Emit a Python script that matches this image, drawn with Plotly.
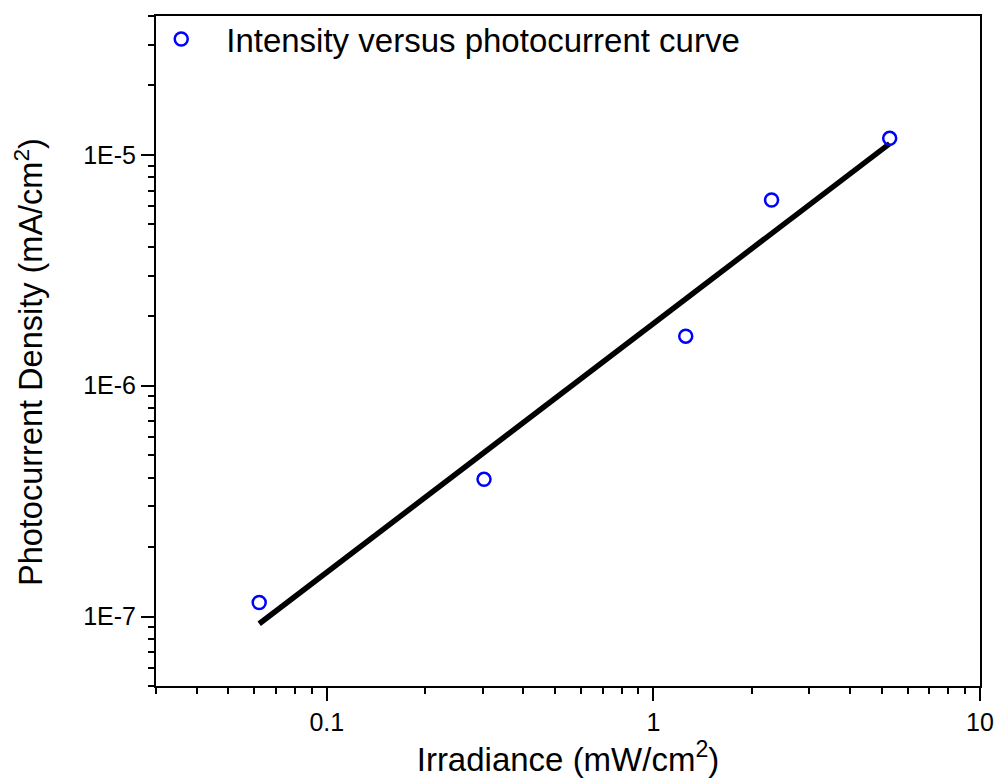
import plotly.graph_objects as go

# Data
irradiance = [0.0621, 0.303, 1.256, 2.30, 5.29]          # mW/cm^2
photocurrent = [1.15e-7, 3.93e-7, 1.64e-6, 6.38e-6, 1.18e-5]  # mA/cm^2

fit_x = [0.0621, 5.29]
fit_y = [9.3e-8, 1.12e-5]

x_tickvals = [0.1, 1, 10]
x_ticktext = ["0.1", "1", "10"]
y_tickvals = [1e-7, 1e-6, 1e-5]
y_ticktext = ["1E-7", "1E-6", "1E-5"]

FONT = "Liberation Sans, Arial, sans-serif"

fig = go.Figure()
fig.add_trace(go.Scatter(
    x=fit_x, y=fit_y, mode="lines",
    line=dict(color="black", width=5.5),
    showlegend=False, hoverinfo="skip",
))
fig.add_trace(go.Scatter(
    x=irradiance, y=photocurrent, mode="markers",
    name="Intensity versus photocurrent curve",
    marker=dict(symbol="circle-open", size=13, color="#0000FF",
                line=dict(color="#0000FF", width=2.5)),
))

axis_common = dict(
    type="log",
    showline=True, linecolor="black", linewidth=2,
    mirror=True, automargin=False,
    ticks="outside", ticklen=13, tickwidth=2, tickcolor="black",
    showgrid=False, zeroline=False,
    tickfont=dict(family=FONT, size=25, color="black"),
    minor=dict(ticks="outside", ticklen=6, tickwidth=2, tickcolor="black",
               dtick="D1", showgrid=False),
)

fig.update_xaxes(
    **axis_common,
    range=[-1.5229, 1],
    tickmode="array", tickvals=x_tickvals, ticktext=x_ticktext,
    title=dict(text="Irradiance (mW/cm<sup>2</sup>)",
               font=dict(family=FONT, size=33, color="black"), standoff=12),
)
fig.update_yaxes(
    **axis_common,
    range=[-7.301, -4.398],
    tickmode="array", tickvals=y_tickvals, ticktext=y_ticktext,
)

fig.update_layout(
    width=995, height=778,
    margin=dict(l=156, r=15, t=15, b=92),
    paper_bgcolor="white", plot_bgcolor="white",
    legend=dict(x=-0.024, y=1.006, xanchor="left", yanchor="top",
                font=dict(family=FONT, size=33, color="black"),
                bgcolor="rgba(0,0,0,0)", itemwidth=80),
    annotations=[dict(
        text="Photocurrent Density (mA/cm<sup>2</sup>)",
        xref="paper", yref="paper", x=-0.155, y=0.484,
        xanchor="center", yanchor="middle", textangle=-90,
        showarrow=False, font=dict(family=FONT, size=32.5, color="black"),
    )],
)

fig.write_html("out.html")
